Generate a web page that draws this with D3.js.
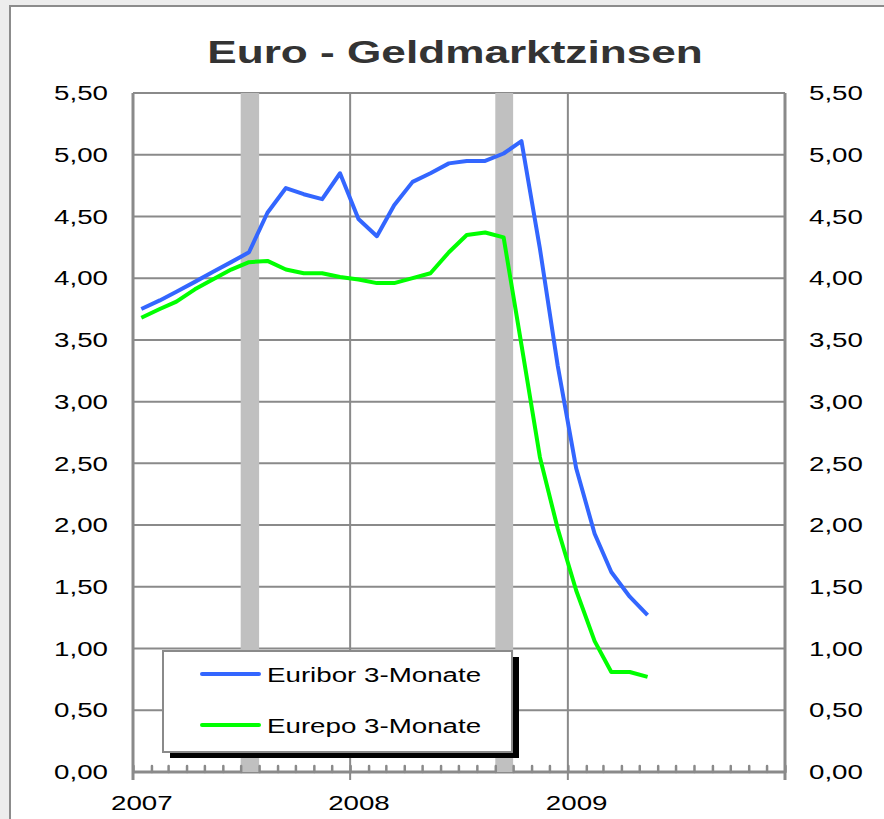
<!DOCTYPE html>
<html>
<head>
<meta charset="utf-8">
<script src="https://cdn.jsdelivr.net/npm/d3@7/dist/d3.min.js"></script>
<style>
  body { margin: 0; background: #ededed; }
  text { font-family: "Liberation Sans", Arial, sans-serif; }
</style>
</head>
<body>
<div id="chart"></div>
<script>
var svgWidth = 884;
var svgHeight = 819;

// monthly averages, Jan 2007 - May 2009
var months = ["2007-01", "2007-02", "2007-03", "2007-04", "2007-05", "2007-06",
  "2007-07", "2007-08", "2007-09", "2007-10", "2007-11", "2007-12",
  "2008-01", "2008-02", "2008-03", "2008-04", "2008-05", "2008-06",
  "2008-07", "2008-08", "2008-09", "2008-10", "2008-11", "2008-12",
  "2009-01", "2009-02", "2009-03", "2009-04", "2009-05"];
var euribor = [3.75, 3.82, 3.89, 3.97, 4.05, 4.13, 4.21, 4.53, 4.73, 4.68, 4.64, 4.85,
  4.48, 4.34, 4.59, 4.78, 4.85, 4.93, 4.95, 4.95, 5.01, 5.11, 4.24, 3.29,
  2.46, 1.93, 1.62, 1.42, 1.27];
var eurepo = [3.68, 3.75, 3.81, 3.91, 3.99, 4.07, 4.13, 4.14, 4.07, 4.04, 4.04, 4.01,
  3.99, 3.96, 3.96, 4.00, 4.04, 4.21, 4.35, 4.37, 4.33, 3.46, 2.55, 1.97,
  1.47, 1.06, 0.81, 0.81, 0.77];
var seriesNames = ["Euribor 3-Monate", "Eurepo 3-Monate"];
var seriesColors = ["#3366ff", "#00ff00"];

// shaded months
var bandStarts = ["2007-07", "2008-09"];
var yTicks = [0, 0.5, 1, 1.5, 2, 2.5, 3, 3.5, 4, 4.5, 5, 5.5];
var years = [2007, 2008, 2009, 2010];
var yearLabels = ["2007", "2008", "2009"];

var margin = { top: 93, right: 99, bottom: 47, left: 133 };
var width = svgWidth - margin.left - margin.right;
var height = svgHeight - margin.top - margin.bottom;
var stretch = 1.32; // text in the original is wide

var parseMonth = d3.timeParse("%Y-%m");
var fmt = d3.formatLocale({ decimal: ",", thousands: ".", grouping: [3], currency: ["", "€"] }).format(".2f");
var grid = "#8a8a8a";

var svg = d3.select("#chart")
  .append("svg")
  .attr("width", svgWidth)
  .attr("height", svgHeight);

// outer frame
svg.append("rect")
  .attr("x", 10).attr("y", 6)
  .attr("width", svgWidth + 20).attr("height", svgHeight + 20)
  .attr("fill", "#fff")
  .attr("stroke", "#8c8c8c")
  .attr("stroke-width", 2);

svg.append("text")
  .attr("transform", "translate(455, 63) scale(1.38, 1)")
  .attr("text-anchor", "middle")
  .attr("font-size", 32)
  .attr("font-weight", "bold")
  .attr("fill", "#333")
  .text("Euro - Geldmarktzinsen");

var chartGroup = svg.append("g")
  .attr("transform", `translate(${margin.left}, ${margin.top})`);

var xScale = d3.scaleTime()
  .domain([new Date(2007, 0, 1), new Date(2010, 0, 1)])
  .range([0, width]);
var yScale = d3.scaleLinear()
  .domain([0, 5.5])
  .range([height, 0]);

// horizontal grid
chartGroup.selectAll(".hgrid")
  .data(yTicks)
  .enter()
  .append("line")
  .attr("x1", 0).attr("x2", width)
  .attr("y1", d => yScale(d)).attr("y2", d => yScale(d))
  .attr("stroke", grid)
  .attr("stroke-width", d => d === 0 ? 3 : 2);

// vertical lines at year boundaries (incl. plot edges)
chartGroup.selectAll(".vgrid")
  .data(years)
  .enter()
  .append("line")
  .attr("x1", d => xScale(new Date(d, 0, 1))).attr("x2", d => xScale(new Date(d, 0, 1)))
  .attr("y1", 0).attr("y2", height + 8)
  .attr("stroke", grid)
  .attr("stroke-width", d => (d === 2007 || d === 2010) ? 3 : 2);

// shaded bands
chartGroup.selectAll(".band")
  .data(bandStarts)
  .enter()
  .append("rect")
  .attr("x", d => xScale(parseMonth(d)))
  .attr("width", d => xScale(d3.timeMonth.offset(parseMonth(d), 1)) - xScale(parseMonth(d)))
  .attr("y", 0)
  .attr("height", height)
  .attr("fill", "#c0c0c0");

// monthly tick marks, pointing up
var monthAxis = d3.axisBottom(xScale)
  .ticks(d3.timeMonth.every(1))
  .tickSizeInner(-6)
  .tickSizeOuter(0)
  .tickFormat("");
var mAx = chartGroup.append("g")
  .attr("transform", `translate(0, ${height})`)
  .call(monthAxis);
mAx.select(".domain").remove();
mAx.selectAll("line")
  .attr("stroke", grid)
  .attr("stroke-width", 2.5)
  .attr("stroke-linecap", "round");

// year labels
var yearAxis = d3.axisBottom(xScale)
  .tickValues(yearLabels.map(d => new Date(+d, 0, 15)))
  .tickSize(0)
  .tickPadding(23)
  .tickFormat(d3.timeFormat("%Y"));
var yrAx = chartGroup.append("g")
  .attr("transform", `translate(0, ${height})`)
  .call(yearAxis);
yrAx.select(".domain").remove();
yrAx.selectAll("text")
  .attr("font-size", 21)
  .attr("font-family", "Liberation Sans, Arial, sans-serif")
  .attr("fill", "#000")
  .attr("transform", `scale(${stretch}, 1)`);

// value axes left and right
var leftAxis = d3.axisLeft(yScale).tickValues(yTicks).tickSize(0).tickPadding(25 / stretch).tickFormat(fmt);
var rightAxis = d3.axisRight(yScale).tickValues(yTicks).tickSize(0).tickPadding(24 / stretch).tickFormat(fmt);

[chartGroup.append("g").call(leftAxis),
 chartGroup.append("g").attr("transform", `translate(${width}, 0)`).call(rightAxis)]
  .forEach(function (ax) {
    ax.select(".domain").remove();
    ax.selectAll("text")
      .attr("font-size", 21)
      .attr("font-family", "Liberation Sans, Arial, sans-serif")
      .attr("fill", "#000")
      .attr("transform", `scale(${stretch}, 1)`);
  });

// series lines
var line = d3.line()
  .x((d, i) => xScale(d3.timeDay.offset(parseMonth(months[i]), 14)))
  .y(d => yScale(d));

[euribor, eurepo].forEach(function (vals, i) {
  chartGroup.append("path")
    .datum(vals)
    .attr("d", line)
    .attr("fill", "none")
    .attr("stroke", seriesColors[i])
    .attr("stroke-width", 4)
    .attr("stroke-linejoin", "round");
});

// legend with drop shadow
var legend = svg.append("g").attr("transform", "translate(163, 651)");
legend.append("rect")
  .attr("x", 7).attr("y", 6)
  .attr("width", 349).attr("height", 101)
  .attr("fill", "#000");
legend.append("rect")
  .attr("width", 349).attr("height", 101)
  .attr("fill", "#fff")
  .attr("stroke", grid)
  .attr("stroke-width", 2);

var items = legend.selectAll(".item")
  .data(seriesNames)
  .enter()
  .append("g")
  .attr("transform", (d, i) => `translate(0, ${23 + i * 51})`);
items.append("line")
  .attr("x1", 39).attr("x2", 96)
  .attr("stroke", (d, i) => seriesColors[i])
  .attr("stroke-width", 4)
  .attr("stroke-linecap", "round");
items.append("text")
  .attr("transform", `translate(104, 7.5) scale(${stretch}, 1)`)
  .attr("font-size", 21)
  .text(d => d);
</script>
</body>
</html>
